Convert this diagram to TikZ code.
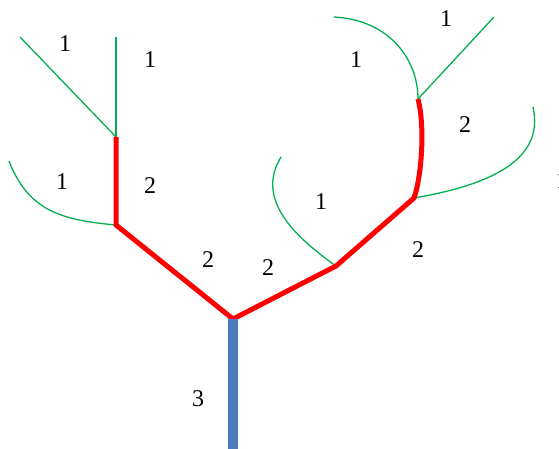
\documentclass[tikz,border=0pt]{standalone}
\usepackage{fontspec}
\setmainfont{Liberation Serif}
\usetikzlibrary{positioning}
\definecolor{twiggreen}{RGB}{0,176,80}
\definecolor{trunkblue}{RGB}{74,126,187}

\begin{document}
\begin{tikzpicture}[x=1pt, y=-1pt,
  twig/.style={twiggreen, line width=1.3pt},
  limb/.style={red, line width=5pt, line join=miter},
  trunk/.style={trunkblue, line width=10pt},
  order/.style={font=\fontsize{24}{24}\selectfont, inner sep=0pt}
]
  \clip (0,0) rectangle (559,449);
  \useasboundingbox (0,0) rectangle (559,449);

  % === Junctions ===
  \coordinate (base) at (233,449);
  \coordinate (root) at (233,319);
  \coordinate (l-fork) at (116,225);
  \coordinate (l-top) at (116,137);
  \coordinate (r-fork) at (336,266);
  \coordinate (r-mid) at (414,198);
  \coordinate (r-top) at (418,99);

  % Free ends of the twigs
  \coordinate (l-tip1) at (20,37);
  \coordinate (l-tip2) at (116,37);
  \coordinate (l-tip3) at (9,161);
  \coordinate (r-tip1) at (281,157);
  \coordinate (r-tip2) at (533,107);
  \coordinate (r-tip3) at (334,17);
  \coordinate (r-tip4) at (494,17);

  % === Twigs (order 1) ===
  \draw[twig] (l-top) -- (l-tip1);
  \draw[twig] (l-top) -- (l-tip2);
  \draw[twig] (l-fork) .. controls (60,220) and (28,210) .. (l-tip3);
  \draw[twig] (r-fork) .. controls (285,230) and (258,195) .. (r-tip1);
  \draw[twig] (r-mid) .. controls (490,185) and (545,160) .. (r-tip2);
  \draw[twig] (r-top) .. controls (418,60) and (390,20) .. (r-tip3);
  \draw[twig] (r-top) -- (r-tip4);

  % === Limbs (order 2) ===
  \draw[limb] (l-top) -- (l-fork) -- (root) -- (r-fork) -- (r-mid)
    .. controls (422,175) and (425,125) .. (r-top);

  % === Trunk (order 3) ===
  \draw[trunk] (root) -- (base);

  % === Labels ===
  \node[order] (n-l1) at (65,44) {1};
  \node[order] (n-l2) at (150,60) {1};
  \node[order] (n-l3) at (62,182) {1};
  \node[order] (n-l4) at (150,186) {2};
  \node[order] (n-c1) at (208,260) {2};
  \node[order] (n-c2) at (268,268) {2};
  \node[order] (n-c3) at (198,399) {3};
  \node[order] (n-r1) at (321,202) {1};
  \node[order] (n-r2) at (418,250) {2};
  \node[order] (n-r3) at (465,125) {2};
  \node[order] (n-r4) at (356,60) {1};
  \node[order] (n-r5) at (446,19) {1};
  \node[order] (n-r6) at (562,181) {1};
\end{tikzpicture}
\end{document}
